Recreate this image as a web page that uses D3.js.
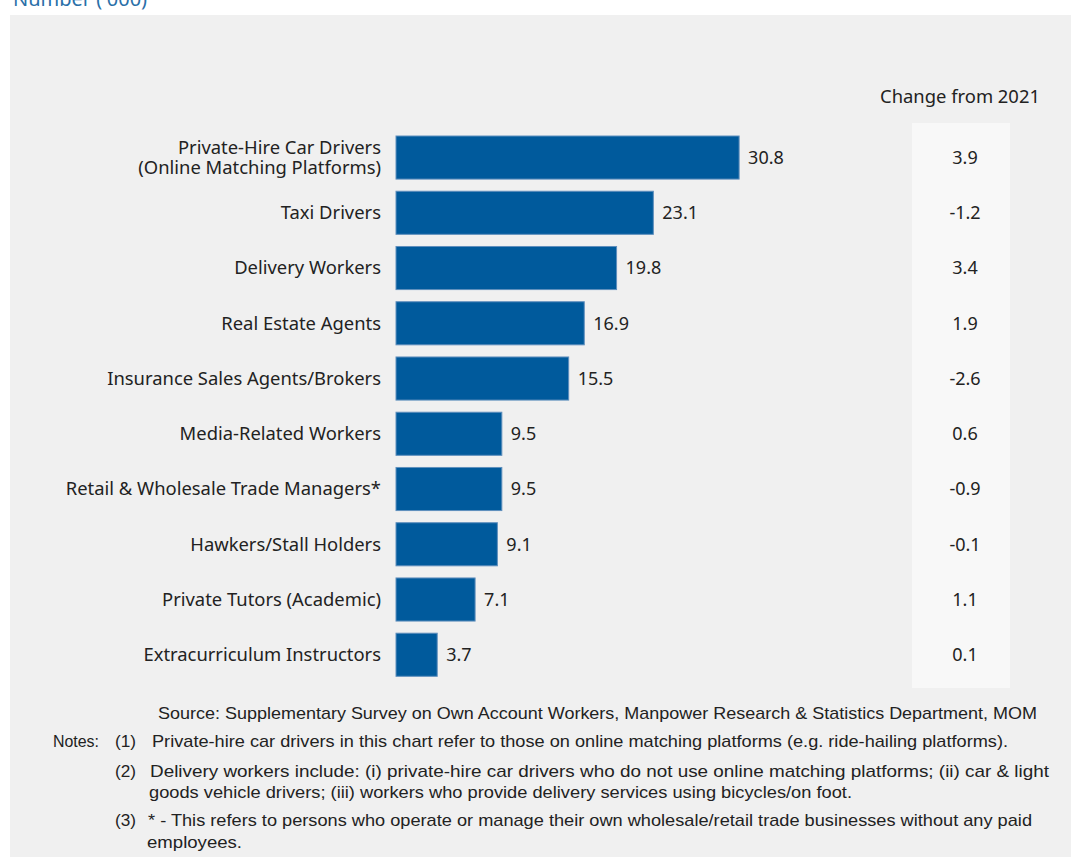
<!DOCTYPE html>
<html>
<head>
<meta charset="utf-8">
<script src="https://cdn.jsdelivr.net/npm/d3@7"></script>
<style>
  html, body { margin: 0; padding: 0; background: #ffffff; }
  svg { display: block; }
</style>
</head>
<body>
<svg id="chart" width="1071" height="857"></svg>
<script>
// Own account workers by occupation, number ('000), with change from 2021
const categories = [
  ["Private-Hire Car Drivers", "(Online Matching Platforms)"],
  ["Taxi Drivers"],
  ["Delivery Workers"],
  ["Real Estate Agents"],
  ["Insurance Sales Agents/Brokers"],
  ["Media-Related Workers"],
  ["Retail & Wholesale Trade Managers*"],
  ["Hawkers/Stall Holders"],
  ["Private Tutors (Academic)"],
  ["Extracurriculum Instructors"]
];
const values = [30.8, 23.1, 19.8, 16.9, 15.5, 9.5, 9.5, 9.1, 7.1, 3.7];
const changes = ["3.9", "-1.2", "3.4", "1.9", "-2.6", "0.6", "-0.9", "-0.1", "1.1", "0.1"];

const unitLabel = "Number ('000)";
const changeHeader = "Change from 2021";
const sourceText = "Source: Supplementary Survey on Own Account Workers, Manpower Research & Statistics Department, MOM";
const notes = [
  { num: "(1)", lines: ["Private-hire car drivers in this chart refer to those on online matching platforms (e.g. ride-hailing platforms)."] },
  { num: "(2)", lines: ["Delivery workers include: (i) private-hire car drivers who do not use online matching platforms; (ii) car & light",
                         "goods vehicle drivers; (iii) workers who provide delivery services using bicycles/on foot."] },
  { num: "(3)", lines: ["* - This refers to persons who operate or manage their own wholesale/retail trade businesses without any paid",
                         "employees."] }
];

const svg = d3.select("#chart");
const FONT = "'Noto Sans', 'Open Sans', sans-serif";
const NARROW = "'Liberation Sans Narrow', 'Liberation Sans', sans-serif";
const BLUE = "#005a9c";
const INK = "#222";

// panel backgrounds
svg.append("rect").attr("x", 10).attr("y", 15).attr("width", 1061).attr("height", 842).attr("fill", "#f0f0f0");
svg.append("rect").attr("x", 912).attr("y", 123).attr("width", 98).attr("height", 565).attr("fill", "#f8f8f8");

svg.append("text").attr("x", 13).attr("y", 6)
  .attr("font-family", FONT).attr("font-size", 20).attr("fill", "#2a6fa8")
  .text(unitLabel);

// scales
const x = d3.scaleLinear().domain([0, 35]).range([396, 396 + 35 * 11.14]);
const y = d3.scaleBand().domain(d3.range(categories.length)).range([136, 676.3]).paddingInner(0.22).paddingOuter(0);

// bars
svg.append("g").selectAll("rect").data(values).join("rect")
  .attr("x", x(0)).attr("y", (d, i) => y(i))
  .attr("width", d => x(d) - x(0)).attr("height", y.bandwidth())
  .attr("fill", BLUE).attr("stroke", "#5f8fbd").attr("stroke-width", 1);

// value labels
svg.append("g").selectAll("text").data(values).join("text")
  .attr("x", d => x(d) + 9).attr("y", (d, i) => y(i) + y.bandwidth() / 2)
  .attr("dy", "0.35em")
  .attr("font-family", FONT).attr("font-size", 18).attr("fill", INK)
  .text(d => d.toFixed(1));

// category labels, one text element per line
const catG = svg.append("g");
categories.forEach((lines, i) => {
  const cy = y(i) + y.bandwidth() / 2;
  const lh = 20;
  lines.forEach((ln, j) => {
    catG.append("text")
      .attr("text-anchor", "end")
      .attr("font-family", FONT).attr("font-size", 18.4).attr("fill", INK)
      .attr("x", 381)
      .attr("y", cy + (j - (lines.length - 1) / 2) * lh)
      .attr("dy", "0.35em")
      .text(ln);
  });
});

// change column
svg.append("text").attr("x", 960).attr("y", 97).attr("dy", "0.35em")
  .attr("text-anchor", "middle")
  .attr("font-family", FONT).attr("font-size", 18.4).attr("fill", INK)
  .text(changeHeader);

svg.append("g").selectAll("text").data(changes).join("text")
  .attr("x", 965).attr("y", (d, i) => y(i) + y.bandwidth() / 2)
  .attr("dy", "0.35em").attr("text-anchor", "middle")
  .attr("font-family", FONT).attr("font-size", 18).attr("fill", INK)
  .text(d => d);

// source and notes
const noteStyle = sel => sel.attr("font-family", NARROW).attr("font-size", 17).attr("fill", INK)
  .attr("lengthAdjust", "spacingAndGlyphs");

svg.append("text").attr("x", 158).attr("y", 719)
  .call(noteStyle).attr("textLength", 879).text(sourceText);

svg.append("text").attr("x", 53).attr("y", 747).call(noteStyle).attr("textLength", 46).text("Notes:");

const noteLayout = [
  { textX: 152, ys: [747], widths: [856] },
  { textX: 150, ys: [777, 798], widths: [899, 703] },
  { textX: 148, ys: [826, 848], widths: [884, 95] }
];
notes.forEach((n, k) => {
  const L = noteLayout[k];
  svg.append("text").attr("x", 115).attr("y", L.ys[0]).call(noteStyle).attr("textLength", 21).text(n.num);
  n.lines.forEach((ln, j) => {
    svg.append("text").attr("x", j === 0 ? L.textX : L.textX - 1).attr("y", L.ys[j])
      .call(noteStyle).attr("textLength", L.widths[j]).text(ln);
  });
});
</script>
</body>
</html>
